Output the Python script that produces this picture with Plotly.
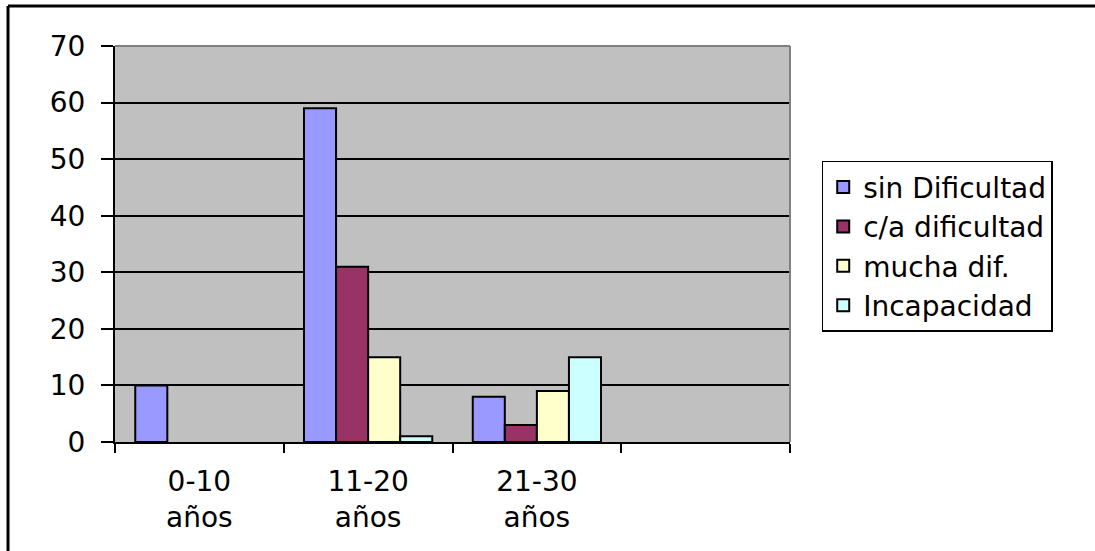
import plotly.graph_objects as go

# Age groups (the last slot is an empty category on the axis)
categories = ["0-10<br>años", "11-20<br>años", "21-30<br>años", " "]

# Counts per difficulty level
sin_dificultad = [10, 59, 8, None]
ca_dificultad = [None, 31, 3, None]
mucha_dif = [None, 15, 9, None]
incapacidad = [None, 1, 15, None]

series_names = ["sin Dificultad", "c/a dificultad", "mucha dif.", "Incapacidad"]
series_values = [sin_dificultad, ca_dificultad, mucha_dif, incapacidad]
series_colors = ["#9999FF", "#993366", "#FFFFCC", "#CCFFFF"]

y_ticks = [0, 10, 20, 30, 40, 50, 60, 70]

FONT = "DejaVu Sans"
FSIZE = 28

fig = go.Figure()
for name, vals, color in zip(series_names, series_values, series_colors):
    fig.add_trace(go.Bar(
        x=categories,
        y=vals,
        name=name,
        marker=dict(color=color, line=dict(color="black", width=2)),
    ))

fig.update_layout(
    width=1095,
    height=551,
    margin=dict(l=115, r=305, t=46, b=109),
    paper_bgcolor="white",
    plot_bgcolor="#C0C0C0",
    barmode="group",
    bargap=0.24,
    bargroupgap=0,
    font=dict(family=FONT, size=FSIZE, color="black"),
    showlegend=True,
    legend=dict(
        x=1.047, y=0.71, xanchor="left", yanchor="top",
        bgcolor="white", bordercolor="black", borderwidth=1.5,
        font=dict(family=FONT, size=FSIZE, color="black"),
        tracegroupgap=0,
    ),
    xaxis=dict(
        type="category",
        categoryorder="array",
        categoryarray=categories,
        range=[-0.5, 3.5],
        tickson="boundaries",
        ticks="outside",
        ticklen=9,
        tickwidth=2,
        tickcolor="black",
        showline=True,
        linecolor="black",
        linewidth=2,
        showgrid=False,
        ticklabelstandoff=13,
        tickfont=dict(family=FONT, size=FSIZE),
    ),
    yaxis=dict(
        range=[0, 70],
        tickvals=y_ticks,
        ticks="outside",
        ticklen=12,
        tickwidth=2,
        tickcolor="black",
        showline=True,
        linecolor="black",
        linewidth=2,
        showgrid=True,
        gridcolor="black",
        gridwidth=1.5,
        zeroline=False,
        ticklabelstandoff=10,
        tickfont=dict(family=FONT, size=FSIZE),
    ),
    shapes=[
        # gray border on the top and right edges of the plot area
        dict(type="line", xref="x domain", yref="y domain", x0=0, x1=1, y0=1, y1=1,
             line=dict(color="#808080", width=2), layer="above"),
        dict(type="line", xref="x domain", yref="y domain", x0=1, x1=1, y0=0, y1=1,
             line=dict(color="#808080", width=2), layer="above"),
        # outer chart frame (top and left edges)
        dict(type="line", xref="paper", yref="paper", x0=-0.1585, x1=1.6, y0=1.101, y1=1.101,
             line=dict(color="black", width=3)),
        dict(type="line", xref="paper", yref="paper", x0=-0.1585, x1=-0.1585, y0=1.101, y1=-0.5,
             line=dict(color="black", width=3)),
    ],
)

fig.write_html("out.html")
